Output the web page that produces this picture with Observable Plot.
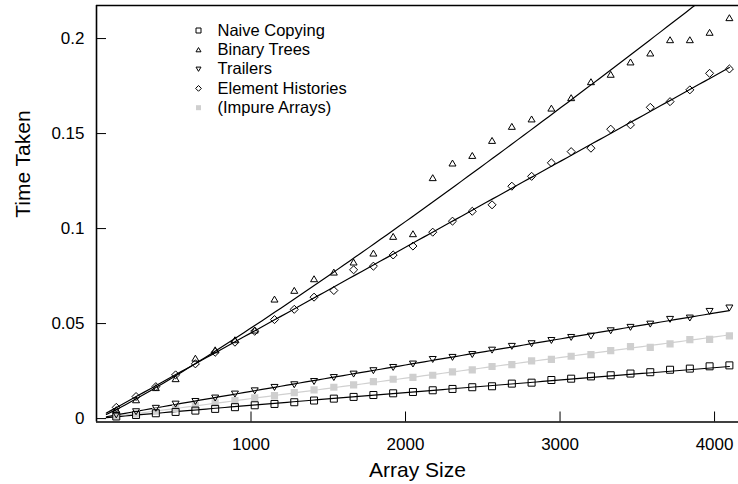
<!DOCTYPE html>
<html><head><meta charset="utf-8">
<script src="https://cdn.jsdelivr.net/npm/d3@7"></script>
<script src="https://cdn.jsdelivr.net/npm/@observablehq/plot@0.6"></script>
<style>
html,body{margin:0;padding:0;background:#fff;}
#chart svg{display:block;}
</style></head><body><div id="chart"></div>
<script>
// ---- data ----
const arraySizes = [128,256,384,512,640,768,896,1024,1152,1280,1408,1536,1664,1792,1920,2048,
  2176,2304,2432,2560,2688,2816,2944,3072,3200,3328,3456,3584,3712,3840,3968,4096];
const naiveCopying = [0.0011,0.0019,0.0028,0.0035,0.0042,0.0051,0.0060,0.0070,0.0077,0.0086,0.0095,0.0105,0.0114,0.0124,0.0133,0.0140,
  0.0149,0.0156,0.0165,0.0170,0.0184,0.0189,0.0203,0.0210,0.0222,0.0228,0.0237,0.0244,0.0257,0.0263,0.0275,0.0280];
const binaryTrees = [0.0046,0.0098,0.0162,0.0209,0.0317,0.0361,0.0414,0.0465,0.0628,0.0674,0.0735,0.0770,0.0823,0.0870,0.0958,0.0972,
  0.1267,0.1344,0.1384,0.1463,0.1537,0.1576,0.1633,0.1688,0.1772,0.1811,0.1876,0.1923,0.1993,0.1993,0.2032,0.2109];
const trailers = [0.0020,0.0037,0.0055,0.0077,0.0091,0.0109,0.0130,0.0147,0.0165,0.0179,0.0196,0.0217,0.0235,0.0253,0.0270,0.0288,
  0.0312,0.0323,0.0338,0.0361,0.0381,0.0395,0.0412,0.0428,0.0435,0.0463,0.0481,0.0498,0.0523,0.0530,0.0565,0.0583];
const elementHistories = [0.0059,0.0116,0.0168,0.0230,0.0288,0.0349,0.0402,0.0460,0.0521,0.0575,0.0639,0.0674,0.0783,0.0802,0.0861,0.0908,
  0.0981,0.1039,0.1091,0.1125,0.1223,0.1275,0.1346,0.1405,0.1423,0.1523,0.1546,0.1638,0.1668,0.1730,0.1817,0.1840];
const impureArrays = [0.0013,0.0025,0.0039,0.0054,0.0068,0.0083,0.0095,0.0109,0.0121,0.0137,0.0151,0.0165,0.0177,0.0195,0.0207,0.0217,
  0.0228,0.0246,0.0256,0.0274,0.0284,0.0304,0.0312,0.0328,0.0337,0.0358,0.0379,0.0375,0.0393,0.0416,0.0417,0.0435];
const seriesNames = ["Naive Copying","Binary Trees","Trailers","Element Histories","(Impure Arrays)"];
const xTicks = [1000,2000,3000,4000];
const xTickLabels = ["1000","2000","3000","4000"];
const yTicks = [0,0.05,0.1,0.15,0.2];
const yTickLabels = ["0","0.05","0.1","0.15","0.2"];
const xTitle = "Array Size";
const yTitle = "Time Taken";
const xDomain = [0, 4155];
const yDomain = [-0.0018, 0.2174];
const fitRange = [64, 4096];

// ---- marker shapes ----
const shape = (pts) => ({draw(ctx, size) {
  const r = Math.sqrt(size / Math.PI);
  ctx.moveTo(pts[0][0] * r, pts[0][1] * r);
  for (const p of pts.slice(1)) ctx.lineTo(p[0] * r, p[1] * r);
  ctx.closePath();
}});
const symSquare = shape([[-1,-1],[1,-1],[1,1],[-1,1]]);
const symTriUp = shape([[0,-0.9],[1,0.8],[-1,0.8]]);
const symTriDown = shape([[0,0.9],[1,-0.8],[-1,-0.8]]);
const symDiamond = shape([[0,-1.15],[1.15,0],[0,1.15],[-1.15,0]]);

const series = [
  {name: seriesNames[0], values: naiveCopying, symbol: symSquare, hollow: true, line: "#000"},
  {name: seriesNames[1], values: binaryTrees, symbol: symTriUp, hollow: true, line: "#000"},
  {name: seriesNames[2], values: trailers, symbol: symTriDown, hollow: true, line: "#000"},
  {name: seriesNames[3], values: elementHistories, symbol: symDiamond, hollow: true, line: "#000"},
  {name: seriesNames[4], values: impureArrays, symbol: symSquare, hollow: false, line: "#d0d0d0"}
];

// power-law fit (linear regression in log-log space) from the data
function fitCurve(ys) {
  const lx = arraySizes.map(Math.log), ly = ys.map(Math.log);
  const mx = d3.mean(lx), my = d3.mean(ly);
  const b = d3.sum(lx, (x, i) => (x - mx) * (ly[i] - my)) / d3.sum(lx, x => (x - mx) ** 2);
  const a = my - b * mx;
  const samples = d3.range(0, 101).map(t => fitRange[0] + (fitRange[1] - fitRange[0]) * t / 100);
  return samples.map(x => ({x, y: Math.exp(a + b * Math.log(x))}));
}

const font = "'Liberation Sans', Arial, Helvetica, sans-serif";
const marks = [];
const order = [series[4], series[0], series[2], series[3], series[1]];

for (const s of order) {
  marks.push(Plot.line(fitCurve(s.values), {x: "x", y: "y", stroke: s.line, strokeWidth: 1.2, clip: true}));
}
for (const s of order) {
  const pts = arraySizes.map((x, i) => ({x, y: s.values[i]}));
  marks.push(Plot.dot(pts, {
    x: "x", y: "y", symbol: () => s.symbol, r: s.hollow ? 3.5 : 3.6,
    fill: s.hollow ? "none" : "#cfcfcf",
    stroke: s.hollow ? "#000" : "none", strokeWidth: 1, clip: true
  }));
}

// frame lines (left, top, bottom)
marks.push(Plot.ruleX([xDomain[0]], {stroke: "#000", strokeWidth: 1.6}));
marks.push(Plot.ruleY([yDomain[0], yDomain[1]], {stroke: "#000", strokeWidth: 1.6}));

// inward ticks
marks.push(Plot.axisX({anchor: "bottom", ticks: xTicks, tickSize: 10, dy: -10, tickFormat: () => "", label: null, strokeWidth: 1}));
marks.push(Plot.axisY({anchor: "left", ticks: yTicks, tickSize: 10, dx: 10, tickFormat: () => "", label: null, strokeWidth: 1}));
// tick labels
marks.push(Plot.axisX({anchor: "bottom", ticks: xTicks, tickSize: 0, tickPadding: 16,
  tickFormat: d => xTickLabels[xTicks.indexOf(d)], label: null, fontSize: 17, fill: "#000"}));
marks.push(Plot.axisY({anchor: "left", ticks: yTicks, tickSize: 0, tickPadding: 12,
  tickFormat: d => yTickLabels[yTicks.indexOf(d)], label: null, fontSize: 17, fill: "#000"}));

// axis titles
marks.push(Plot.text([xTitle], {frameAnchor: "bottom", dy: 55, lineAnchor: "bottom", text: d => d, fontSize: 21, fill: "#000"}));
marks.push(Plot.text([yTitle], {frameAnchor: "left", dx: -73, dy: 4, rotate: -90, lineAnchor: "middle", text: d => d, fontSize: 21, fill: "#000"}));

// legend
series.forEach((s, i) => {
  const dy = 25 + i * 19.3;
  marks.push(Plot.dot([s.name], {frameAnchor: "top-left", dx: 102, dy, symbol: () => s.symbol, r: 2.5,
    fill: s.hollow ? "none" : "#cfcfcf", stroke: s.hollow ? "#000" : "none", strokeWidth: 1}));
  marks.push(Plot.text([s.name], {frameAnchor: "top-left", dx: 121, dy, text: d => d, textAnchor: "start",
    lineAnchor: "middle", fontSize: 16.5, fill: "#000"}));
});

const chart = Plot.plot({
  width: 738, height: 484,
  marginLeft: 96, marginRight: 0, marginTop: 5, marginBottom: 62.5,
  x: {domain: xDomain},
  y: {domain: yDomain},
  style: {fontFamily: font, background: "#fff", color: "#000", overflow: "visible"},
  marks
});
document.getElementById("chart").appendChild(chart);
</script>
</body></html>
